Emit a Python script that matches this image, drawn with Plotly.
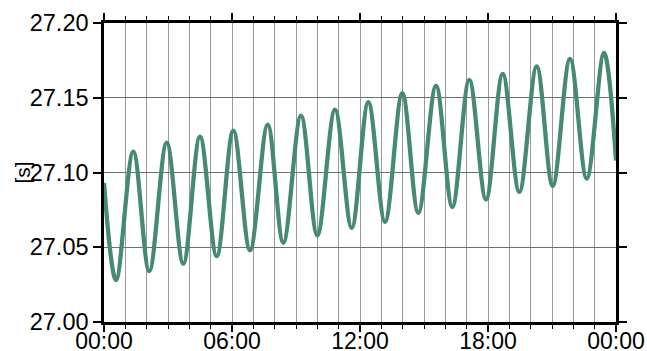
import pandas as pd
import plotly.graph_objects as go

# hours since 00:00 and values (s), read at extrema of the curve
hours = [0.0, 0.5625, 1.373, 2.123, 2.939, 3.717, 4.5, 5.283, 6.061, 6.844, 7.673,
         8.405, 9.234, 9.998, 10.828, 11.611, 12.389, 13.172, 13.983, 14.733, 15.5625,
         16.327, 17.123, 17.906, 18.689, 19.467, 20.283, 21.033, 21.844, 22.627, 23.4375, 24.0]
values = [27.093, 27.028, 27.114, 27.034, 27.120, 27.039, 27.124, 27.044, 27.128, 27.048, 27.132,
          27.053, 27.138, 27.058, 27.142, 27.063, 27.147, 27.067, 27.153, 27.073, 27.158,
          27.077, 27.162, 27.082, 27.166, 27.087, 27.171, 27.091, 27.176, 27.096, 27.180, 27.108]
y_ticks = [27.00, 27.05, 27.10, 27.15, 27.20]
y_tick_labels = ["27.00", "27.05", "27.10", "27.15", "27.20"]
y_label = "[s]"

base = pd.Timestamp("2000-01-01 00:00:00")
times = [base + pd.Timedelta(hours=h) for h in hours]

fig = go.Figure()
fig.add_trace(go.Scatter(
    x=times, y=values, mode="lines",
    line=dict(color="#468a76", width=4.3, shape="spline", smoothing=1.0),
    hoverinfo="skip", showlegend=False,
))

font = dict(family="Liberation Sans, Arial, Helvetica, sans-serif", size=23.5, color="black")
xfont = dict(family="Liberation Sans, Arial, Helvetica, sans-serif", size=23, color="black")

fig.update_layout(
    width=647, height=351,
    margin=dict(l=104, r=30.5, t=23, b=29, pad=0),
    paper_bgcolor="white", plot_bgcolor="white",
    font=font,
    xaxis=dict(
        range=[base, base + pd.Timedelta(hours=24)],
        type="date", automargin=False,
        tickmode="linear", tick0=base, dtick=6 * 3600 * 1000,
        tickformat="%H:%M",
        ticks="outside", ticklen=7, tickwidth=1.5, tickcolor="black",
        ticklabelstandoff=-10,
        showline=True, linecolor="black", linewidth=2.5, mirror="allticks",
        showgrid=True, gridcolor="#9a9a9a", gridwidth=1,
        minor=dict(dtick=3600 * 1000, ticks="outside", ticklen=4, tickwidth=1.2,
                   tickcolor="black", showgrid=True, gridcolor="#9a9a9a", gridwidth=1),
        tickfont=xfont, zeroline=False,
    ),
    yaxis=dict(
        range=[27.0, 27.2], automargin=False,
        tickmode="array", tickvals=y_ticks, ticktext=y_tick_labels,
        ticks="outside", ticklen=8, tickwidth=1.5, tickcolor="black",
        showline=True, linecolor="black", linewidth=2.5, mirror="allticks",
        showgrid=True, gridcolor="#6e6e6e", gridwidth=1,
        tickfont=font, zeroline=False,
    ),
)

fig.add_annotation(
    text=y_label, xref="paper", yref="paper", x=0, y=0.5,
    xshift=-82, textangle=-90, showarrow=False,
    font=dict(family="Liberation Sans, Arial, Helvetica, sans-serif", size=21, color="black"),
    xanchor="center", yanchor="middle",
)

fig.write_html("out.html")
